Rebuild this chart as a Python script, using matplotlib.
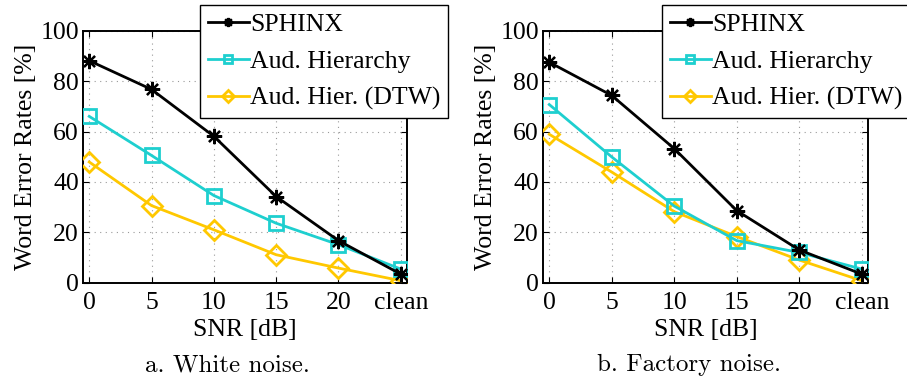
import matplotlib.pyplot as plt
import numpy as np

# SNR conditions (x axis)
snr_labels = ['0', '5', '10', '15', '20', 'clean']
snr_pos = [0, 5, 10, 15, 20, 25]

# word error rates [%], white noise
white_sphinx = [88.1, 76.7, 58.1, 34.2, 16.7, 3.4]
white_aud = [66.0, 50.5, 34.6, 23.6, 15.1, 5.4]
white_dtw = [47.9, 30.6, 21.0, 11.1, 5.8, 0.8]

# word error rates [%], factory noise
factory_sphinx = [87.5, 74.3, 53.2, 28.6, 13.0, 3.4]
factory_aud = [70.7, 49.9, 30.4, 16.7, 12.0, 5.4]
factory_dtw = [58.9, 43.9, 28.2, 18.3, 9.0, 0.8]

series_names = ['SPHINX', 'Aud. Hierarchy', 'Aud. Hier. (DTW)']
captions = ['a. White noise.', 'b. Factory noise.']

plt.rcParams['font.family'] = ['Liberation Serif', 'DejaVu Serif']

W, H = 907, 378
fig = plt.figure(figsize=(W / 100, H / 100), dpi=100)

cyan = '#1ecfcf'
yellow = '#ffc800'


def px_axes(x0, y0, x1, y1):
    return fig.add_axes([x0 / W, 1 - y1 / H, (x1 - x0) / W, (y1 - y0) / H])


panels = [
    (px_axes(83, 30.7, 407, 282.7), white_sphinx, white_aud, white_dtw, 448, 227),
    (px_axes(543, 30.7, 868, 282.7), factory_sphinx, factory_aud, factory_dtw, 910, 689),
]

for i, (ax, sph, aud, dtw, lx1, capx) in enumerate(panels):
    ax.plot(snr_pos, sph, color='black', lw=2, marker=(8, 2, 0), ms=11,
            mew=1.6, label=series_names[0], zorder=5)
    ax.plot(snr_pos, aud, color=cyan, lw=2, marker='s', ms=10,
            mfc='none', mew=2, label=series_names[1], zorder=4)
    ax.plot(snr_pos, dtw, color=yellow, lw=2, marker='D', ms=10,
            mfc='none', mew=2, label=series_names[2], zorder=3)

    ax.set_xlim(-0.5, 25.5)
    ax.set_ylim(0, 100)
    ax.set_xticks(snr_pos)
    ax.set_xticklabels(snr_labels)
    ax.set_yticks(np.arange(0, 101, 20))
    ax.tick_params(direction='in', top=True, right=True, labelsize=18.5,
                   length=4, width=0.8)
    ax.tick_params(axis='x', pad=7)
    ax.tick_params(axis='y', pad=3)
    ax.grid(True, linestyle=(0, (1, 4)), color='#999999', lw=0.8)
    for s in ax.spines.values():
        s.set_linewidth(1.4)
    ax.set_xlabel('SNR [dB]', fontsize=18.5, labelpad=3)
    ax.set_ylabel('Word Error Rates [%]', fontsize=18.5, labelpad=2)

    leg = ax.legend(loc='upper right', fontsize=18.5, markerscale=0.6,
                    bbox_to_anchor=(lx1 / W, 1 - 5 / H),
                    bbox_transform=fig.transFigure,
                    frameon=True, fancybox=False, edgecolor='black',
                    framealpha=1, borderpad=0.3, labelspacing=0.55,
                    handlelength=1.6, handletextpad=0.05, borderaxespad=0)
    leg.get_frame().set_linewidth(1.0)

    fig.text(capx / W, 1 - 365 / H, captions[i], ha='center', va='center',
             fontsize=18, family=['cmr10', 'DejaVu Serif'])

fig.savefig('out.png', dpi=100)
